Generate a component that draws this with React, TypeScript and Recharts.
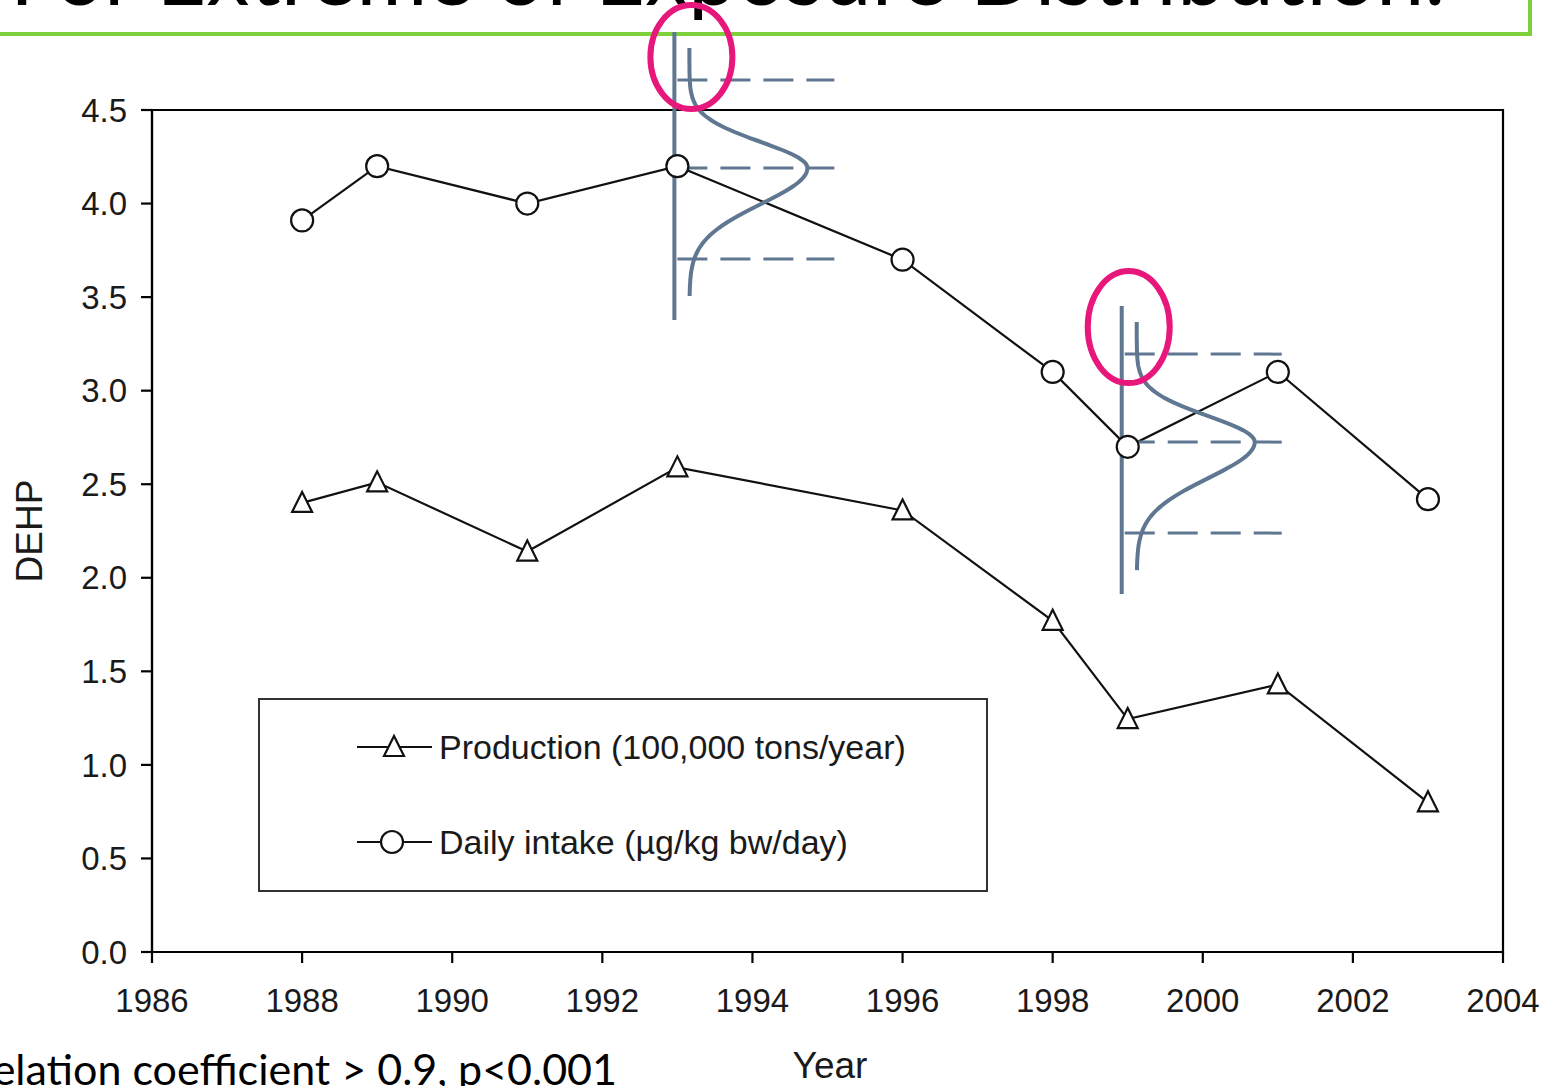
import React from 'react';
import { LineChart, Line, XAxis, YAxis, ReferenceArea, ReferenceDot, Legend } from 'recharts';

const years = [1988, 1989, 1991, 1993, 1996, 1998, 1999, 2001, 2003];
const production = [2.4, 2.51, 2.14, 2.59, 2.36, 1.77, 1.245, 1.43, 0.8];
const dailyIntake = [3.91, 4.2, 4.0, 4.2, 3.7, 3.1, 2.7, 3.1, 2.42];

const xTicks = [1986, 1988, 1990, 1992, 1994, 1996, 1998, 2000, 2002, 2004];
const yTicks = [0, 0.5, 1, 1.5, 2, 2.5, 3, 3.5, 4, 4.5];

// sketched exposure distributions: year they sit on, value of their centre
const sketchYears = [1993, 1999];
const sketchCenters = [4.19, 2.725];

const data = years.map((year, i) => ({
  year,
  production: production[i],
  intake: dailyIntake[i],
}));

const FONT = '"Liberation Sans", Arial, Helvetica, sans-serif';
const SLATE = '#5f7791';
const PINK = '#e8177b';

function bellPath() {
  const pts: string[] = [];
  for (let y = -120; y <= 128; y += 2) {
    const s = y < 0 ? 26 : 36;
    const x = 15 + 118 * Math.exp(-(y * y) / (2 * s * s));
    pts.push(`${x.toFixed(1)},${y}`);
  }
  return 'M' + pts.join(' L');
}

const makeSketch = (shift: number, ex: number, ey: number, ry: number) => (props: any) => {
  const { cx, cy } = props;
  return (
    <g transform={`translate(${cx + shift},${cy})`}>
      <line x1={0} y1={-136} x2={0} y2={152} stroke={SLATE} strokeWidth={4} />
      {[-88, 0, 91].map((dy) => (
        <line
          key={dy}
          x1={3}
          y1={dy}
          x2={160}
          y2={dy}
          stroke={SLATE}
          strokeWidth={3}
          strokeDasharray="30 13"
        />
      ))}
      <path d={bellPath()} fill="none" stroke={SLATE} strokeWidth={4} />
      <ellipse cx={ex} cy={ey} rx={41} ry={ry} fill="none" stroke={PINK} strokeWidth={6} />
    </g>
  );
};

const sketchShapes = [makeSketch(-3, 17, -111, 52), makeSketch(-6, 7, -115, 56)];

const Triangle = (props: any) => {
  const { cx, cy } = props;
  if (cx == null || cy == null) return null;
  return (
    <polygon
      points={`${cx},${cy - 11} ${cx - 10},${cy + 9} ${cx + 10},${cy + 9}`}
      fill="#fff"
      stroke="#111"
      strokeWidth={2.2}
    />
  );
};

const Circle = (props: any) => {
  const { cx, cy } = props;
  if (cx == null || cy == null) return null;
  return <circle cx={cx} cy={cy} r={11} fill="#fff" stroke="#111" strokeWidth={2.2} />;
};

const LegendBox = () => {
  const row = (top: number, marker: React.ReactNode, label: string) => (
    <div style={{ position: 'absolute', left: 0, top: top - 17, height: 34, width: 730 }}>
      <svg width={90} height={34} style={{ position: 'absolute', left: 95, top: 0 }}>
        <line x1={2} y1={17} x2={77} y2={17} stroke="#111" strokeWidth={2.2} />
        {marker}
      </svg>
      <span
        style={{
          position: 'absolute',
          left: 179,
          top: 0,
          lineHeight: '34px',
          fontSize: 34,
          fontFamily: FONT,
          color: '#1a1a1a',
          whiteSpace: 'nowrap',
        }}
      >
        {label}
      </span>
    </div>
  );
  return (
    <div
      style={{
        position: 'relative',
        width: 730,
        height: 194,
        border: '2px solid #333',
        boxSizing: 'border-box',
        background: '#fff',
      }}
    >
      {row(47, <Triangle cx={39} cy={17} />, 'Production (100,000 tons/year)')}
      {row(142, <Circle cx={37} cy={17} />, 'Daily intake (µg/kg bw/day)')}
    </div>
  );
};

export default function App() {
  return (
    <div
      style={{
        position: 'absolute',
        left: 0,
        top: 0,
        width: 1559,
        height: 1086,
        overflow: 'hidden',
        background: '#fff',
      }}
    >
      <svg width={1559} height={1086} style={{ position: 'absolute', left: 0, top: 0 }}>
        <rect x={-20} y={-100} width={1550} height={134} fill="none" stroke="#7fd13b" strokeWidth={4} />
        <text x={10} y={5} fontSize={86} fontFamily="Lato, sans-serif" fill="#000" textLength={1435}>
          For Extreme of Exposure Distribution.
        </text>
        <text x={617} y={1085} fontSize={43} fontFamily="Lato, sans-serif" fill="#000" textAnchor="end">
          Correlation coefficient &gt; 0.9, p&lt;0.001
        </text>
        <text
          x={0}
          y={0}
          transform="translate(42,531) rotate(-90)"
          fontSize={37}
          fontFamily={FONT}
          fill="#1a1a1a"
          textAnchor="middle"
        >
          DEHP
        </text>
        <text x={830} y={1078} fontSize={37} fontFamily={FONT} fill="#1a1a1a" textAnchor="middle">
          Year
        </text>
      </svg>
      <div style={{ position: 'absolute', left: 0, top: 0 }}>
        <LineChart
          width={1559}
          height={1086}
          data={data}
          margin={{ top: 110, right: 56, bottom: 0, left: 0 }}
        >
          <XAxis
            dataKey="year"
            type="number"
            domain={[1986, 2004]}
            ticks={xTicks}
            height={134}
            axisLine={{ stroke: '#000', strokeWidth: 2.2 }}
            tickLine={{ stroke: '#000', strokeWidth: 2.2 }}
            tickSize={11}
            tickMargin={26}
            tick={{ fill: '#1a1a1a', fontSize: 33, fontFamily: FONT }}
            interval={0}
            allowDataOverflow
          />
          <YAxis
            type="number"
            domain={[0, 4.5]}
            ticks={yTicks}
            width={152}
            axisLine={{ stroke: '#000', strokeWidth: 2.2 }}
            tickLine={{ stroke: '#000', strokeWidth: 2.2 }}
            tickSize={11}
            tickMargin={14}
            tick={{ fill: '#1a1a1a', fontSize: 33, fontFamily: FONT }}
            tickFormatter={(v: number) => v.toFixed(1)}
            interval={0}
            allowDataOverflow
          />
          <ReferenceArea
            x1={1986}
            x2={2004}
            y1={0}
            y2={4.5}
            fill="none"
            fillOpacity={0}
            stroke="#000"
            strokeWidth={2.2}
          />
          <Legend
            layout="horizontal"
            verticalAlign="middle"
            align="center"
            wrapperStyle={{ left: 258, top: 698, width: 730, height: 194 }}
            content={() => <LegendBox />}
          />
          <Line
            dataKey="production"
            stroke="#111"
            strokeWidth={2.2}
            dot={<Triangle />}
            activeDot={false}
            isAnimationActive={false}
          />
          <Line
            dataKey="intake"
            stroke="#111"
            strokeWidth={2.2}
            dot={<Circle />}
            activeDot={false}
            isAnimationActive={false}
          />
          {sketchYears.map((yr, i) => (
            <ReferenceDot
              key={yr}
              x={yr}
              y={sketchCenters[i]}
              r={1}
              ifOverflow="visible"
              shape={sketchShapes[i]}
            />
          ))}
        </LineChart>
      </div>
    </div>
  );
}
